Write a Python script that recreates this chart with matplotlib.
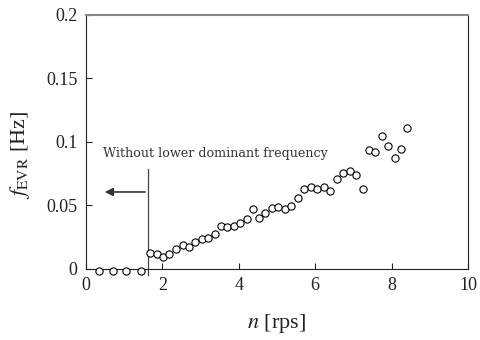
import matplotlib
matplotlib.use('Agg')
import matplotlib.pyplot as plt

n_rps = [0.34, 0.70, 1.06, 1.43,
         1.68, 1.85, 2.02, 2.18, 2.36, 2.53, 2.70, 2.86, 3.04, 3.19,
         3.37, 3.53, 3.69, 3.87, 4.04, 4.21, 4.36, 4.54, 4.70, 4.88,
         5.04, 5.21, 5.38, 5.56, 5.71, 5.89, 6.06, 6.22, 6.39, 6.56,
         6.74, 6.90, 7.07, 7.24, 7.40, 7.57, 7.75, 7.91, 8.08, 8.25, 8.41]
f_evr = [-0.0015, -0.0015, -0.0015, -0.0015,
         0.0128, 0.0116, 0.0097, 0.0116, 0.0157, 0.0189, 0.0176, 0.0210, 0.0236, 0.0247,
         0.0278, 0.0339, 0.0328, 0.0339, 0.0365, 0.0394, 0.0470, 0.0404, 0.0438, 0.0478,
         0.0486, 0.0475, 0.0496, 0.0557, 0.0632, 0.0646, 0.0627, 0.0646, 0.0617, 0.0706,
         0.0753, 0.0774, 0.0738, 0.0627, 0.0937, 0.0924, 0.1047, 0.0966, 0.0876, 0.0945, 0.1108]

xticks = [0, 2, 4, 6, 8, 10]
yticks = [0, 0.05, 0.1, 0.15, 0.2]
yticklabels = ['0', '0.05', '0.1', '0.15', '0.2']

plt.rcParams['font.family'] = ['Liberation Serif', 'DejaVu Serif']
plt.rcParams['mathtext.fontset'] = 'stix'

fig = plt.figure(figsize=(4.8, 3.4), dpi=100)
ax = fig.add_axes([0.179, 0.209, 0.796, 0.747])

ax.plot(n_rps, f_evr, 'o', mfc='white', mec='black', ms=5.2, mew=0.8, clip_on=False, zorder=3)

# boundary line + arrow
ax.plot([1.62, 1.62], [-0.005, 0.0787], color='#444444', lw=0.9, clip_on=False)
ax.annotate('', xy=(0.42, 0.0606), xytext=(1.62, 0.0606),
            arrowprops=dict(arrowstyle='-|>', color='#333333', lw=1.2, mutation_scale=12))
ax.text(0.45, 0.091, 'Without lower dominant frequency', fontsize=9.2,
        family=['DejaVu Serif'], color='#333333', va='center', ha='left')

ax.set_xlim(0, 10)
ax.set_ylim(0, 0.2)
ax.set_xticks(xticks)
ax.set_yticks(yticks)
ax.set_yticklabels(yticklabels)
ax.tick_params(direction='in', length=4, labelsize=13, colors='#222222', pad=6)
for s in ['left', 'bottom', 'right']:
    ax.spines[s].set_color('#222222')
ax.spines['top'].set_color('#888888')
ax.spines['top'].set_linewidth(1.5)

ax.set_xlabel(r'$n$ [rps]', fontsize=16, color='#222222', labelpad=13)
ax.set_ylabel(r'$f_{\rm EVR}$ [Hz]', fontsize=16, color='#222222')
ax.yaxis.set_label_coords(-0.142, 0.45)

fig.savefig('out.png', dpi=100)
